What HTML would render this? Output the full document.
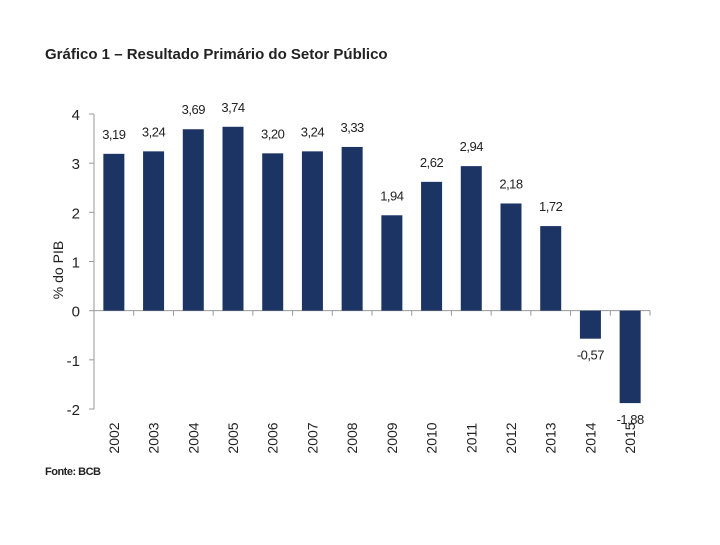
<!DOCTYPE html>
<html><head><meta charset="utf-8"><style>
body{margin:0;background:#fff;}
svg text{font-family:"Liberation Sans",sans-serif;}
</style></head><body>
<svg width="720" height="540" viewBox="0 0 720 540">
<text x="45" y="59" font-size="15" font-weight="bold" fill="#222">Gráfico 1 – Resultado Primário do Setor Público</text>
<g id="plot"></g>
<text x="45" y="475" font-size="11" font-weight="bold" fill="#222" letter-spacing="-0.5">Fonte: BCB</text>
</svg>
<script>
const years=["2002","2003","2004","2005","2006","2007","2008","2009","2010","2011","2012","2013","2014","2015"];
const values=[3.19,3.24,3.69,3.74,3.20,3.24,3.33,1.94,2.62,2.94,2.18,1.72,-0.57,-1.88];
const valueLabels=["3,19","3,24","3,69","3,74","3,20","3,24","3,33","1,94","2,62","2,94","2,18","1,72","-0,57","-1,88"];
const yTicks=[-2,-1,0,1,2,3,4];
const NS="http://www.w3.org/2000/svg";
const g=document.getElementById('plot');
const x0=94,x1=650,yTop=114,yBot=409,vMin=-2,vMax=4;
const bw=(x1-x0)/years.length;
const y=v=>yBot-(v-vMin)/(vMax-vMin)*(yBot-yTop);
const xc=i=>x0+bw*(i+0.5);
function mk(t,a){const e=document.createElementNS(NS,t);for(const k in a)e.setAttribute(k,a[k]);g.appendChild(e);return e;}
// y axis
let ax=mk('line',{x1:x0,y1:yTop,x2:x0,y2:yBot,stroke:'#999','stroke-width':1});


yTicks.forEach(t=>{
 const l=mk('line',{x1:x0-5,x2:x0,y1:y(t),y2:y(t),stroke:'#999'});
 
 
 const tx=mk('text',{x:x0-14,y:y(t)+6,'font-size':15,'text-anchor':'end',fill:'#222'});
 tx.textContent=t;
 
 
});
const yt=mk('text',{x:0,y:0,'font-size':14,'text-anchor':'middle',fill:'#222',transform:'translate(63,270) rotate(-90)'});
yt.textContent='% do PIB';


// zero line
const zl=mk('line',{x1:x0,x2:x1,y1:y(0),y2:y(0),stroke:'#999'});


for(let i=1;i<=years.length;i++){
 const t=mk('line',{x1:x0+bw*i,x2:x0+bw*i,y1:y(0),y2:y(0)+5,stroke:'#999'});
 
 
}
values.forEach((v,i)=>{
 const w=21,top=Math.min(y(v),y(0)),h=Math.abs(y(v)-y(0));
 const r=mk('rect',{x:xc(i)-w/2,y:top,width:w,height:h,fill:'#1b3464'});
 
 
 const ly=v>=0?y(v)-15:y(v)+21;
 const lt=mk('text',{x:xc(i),y:ly,'font-size':13,'text-anchor':'middle',fill:'#222','letter-spacing':'-0.5'});
 lt.textContent=valueLabels[i];
 
 
 const yl=mk('text',{x:0,y:0,'font-size':14,'text-anchor':'middle',fill:'#222',transform:`translate(${xc(i)+5},438) rotate(-90)`});
 yl.textContent=years[i];
 
 
});
</script>
</body></html>
